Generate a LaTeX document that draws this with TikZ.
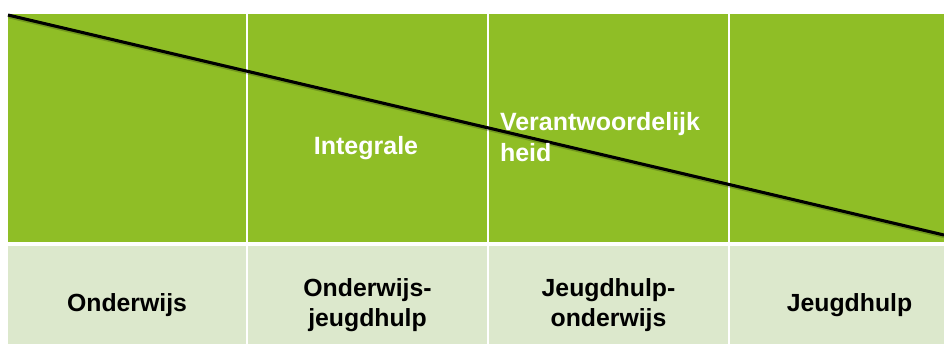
\documentclass[tikz,border=0pt]{standalone}
\usepackage{fontspec}
\setmainfont{Liberation Sans}
\usetikzlibrary{positioning}

\definecolor{cellgreen}{RGB}{143,190,38}
\definecolor{celllight}{RGB}{220,232,204}

\tikzset{every picture/.style={line width=0.75pt}}
\tikzset{
  topcell/.style={fill=cellgreen, draw=white, line width=1.5pt, minimum height=172.5pt, inner sep=0pt, outer sep=0pt},
  botcell/.style={fill=celllight, draw=white, line width=1.5pt, minimum height=90pt, inner sep=0pt, outer sep=0pt, align=center, text=black, font=\fontsize{18.6}{22.8}\selectfont\bfseries},
  toplabel/.style={inner sep=0pt, outer sep=0pt, text=white, font=\fontsize{18.75}{23.2}\selectfont\bfseries},
  diagline/.style={draw=black, line width=2.3pt},
  diagshadow/.style={draw=black, opacity=0.2, line width=2.6pt}
}

\begin{document}
\begin{tikzpicture}[x=0.75pt,y=0.75pt,yscale=-1,xscale=1]
\fill[white] (0,0) rectangle (944,343);
\useasboundingbox (0,0) rectangle (944,343);

% Top row
\node[topcell, minimum width=180pt] (top1) at (127,128) {};
\node[topcell, minimum width=180.75pt] (top2) at (367.5,128) {};
\node[topcell, minimum width=180.75pt] (top3) at (608.5,128) {};
\node[topcell, minimum width=180.75pt] (top4) at (849.5,128) {};

% Bottom row
\node[botcell, minimum width=180pt] (bot1) at (127,305) {Onderwijs};
\node[botcell, minimum width=180.75pt] (bot2) at (367.5,305) {Onderwijs-\\jeugdhulp};
\node[botcell, minimum width=180.75pt] (bot3) at (608.5,305) {Jeugdhulp-\\onderwijs};
\node[botcell, minimum width=180.75pt] (bot4) at (849.5,305) {Jeugdhulp};

% Diagonal
\coordinate (diagA) at (8,15);
\coordinate (diagB) at (944,235);
\draw[diagshadow, transform canvas={xshift=0.5pt, yshift=-1.2pt}] (diagA) -- (diagB);
\draw[diagline] (diagA) -- (diagB);

% Text Node
\node[toplabel, anchor=base] (integrale) at (366,154) {Integrale};
% Text Node
\node[toplabel, anchor=north west, align=left] (verantw) at (500,112) {Verantwoordelijk\\heid};

\end{tikzpicture}
\end{document}
